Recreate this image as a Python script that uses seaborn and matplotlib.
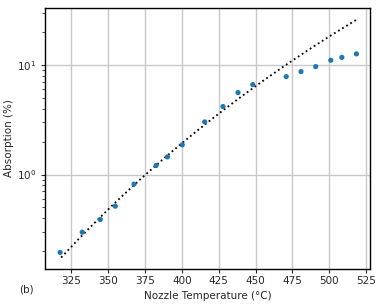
import matplotlib
matplotlib.use("Agg")
import matplotlib.pyplot as plt
import seaborn as sns
import pandas as pd
import numpy as np

# nozzle temperature (degC) and measured absorption (%)
temperature = [317.5, 332.5, 344.7, 354.9, 367.6, 382.6, 390.3, 400.3, 415.5,
               427.9, 438.1, 448.1, 470.8, 480.8, 490.8, 501.0, 508.5, 518.4]
absorption = [0.194, 0.297, 0.388, 0.514, 0.817, 1.21, 1.45, 1.87, 3.03,
              4.19, 5.62, 6.65, 7.87, 8.74, 9.71, 11.1, 11.8, 12.7]

# Arrhenius-type fit: log10(A) = fit_a - fit_b / T[K]
fit_a = 7.84
fit_b = 5085.0
fit_range = [318.2, 518.2]

sns.set_style("ticks")
plt.rcParams["font.family"] = ["DejaVu Sans"]

df = pd.DataFrame({"temp": temperature, "abs": absorption})
t_fit = np.linspace(fit_range[0], fit_range[1], 200)
a_fit = 10 ** (fit_a - fit_b / (t_fit + 273.15))

fig, ax = plt.subplots(figsize=(3.82, 3.07), dpi=100)
ax.set_yscale("log")
ax.grid(True, which="major", color="#c8c8c8", linewidth=1.0)
ax.set_axisbelow(True)

ax.plot(t_fit, a_fit, linestyle=":", color="black", linewidth=1.3)
sns.scatterplot(data=df, x="temp", y="abs", ax=ax, color="#1f77b4",
                s=14, edgecolor="none", zorder=3)

ax.set_xlim(307.3, 527.7)
ax.set_ylim(0.137, 33.4)
ax.set_xticks([325, 350, 375, 400, 425, 450, 475, 500, 525])
ax.set_xlabel("Nozzle Temperature (°C)", fontsize=7.5, labelpad=4)
ax.set_ylabel("Absorption (%)", fontsize=7.5, labelpad=2)
ax.tick_params(labelsize=7.5, length=3, width=0.8)
ax.tick_params(which="minor", length=2, width=0.6)
ax.tick_params(axis="x", length=3, pad=2)
for sp in ax.spines.values():
    sp.set_visible(True)
    sp.set_color("black")
    sp.set_linewidth(1.0)

fig.text(0.05, 0.048, "(b)", fontsize=7.5)
fig.subplots_adjust(left=0.118, right=0.969, top=0.974, bottom=0.124)
fig.savefig("out.png", dpi=100)
